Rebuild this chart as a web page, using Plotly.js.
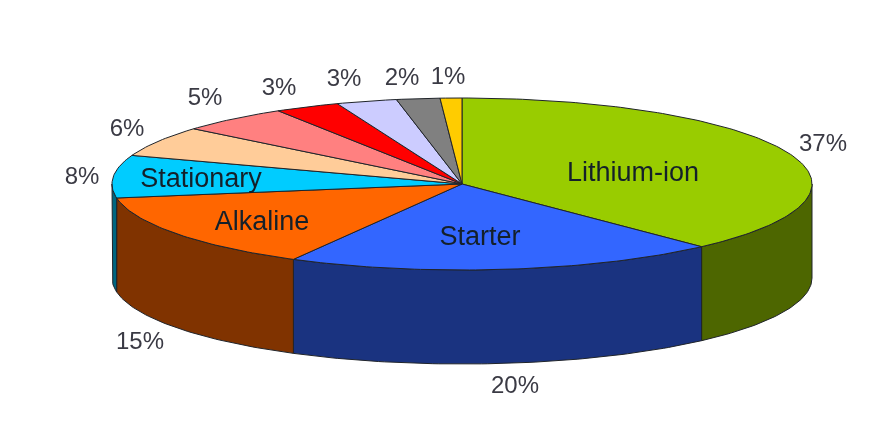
<!DOCTYPE html>
<html>
<head>
<meta charset="utf-8">
<script src="https://cdn.plot.ly/plotly-3.0.1.min.js"></script>
<style>html,body{margin:0;padding:0;background:#fff}#chart{width:880px;height:424px;filter:blur(0.5px)}</style>
</head>
<body>
<div id="chart"></div>
<script>
// Slice shares as read from the drawn boundaries (clockwise from 12 o'clock)
const sliceShares = [38, 20, 14.4, 8, 5.7, 5.1, 3, 2.8, 2, 1];
const percentLabels = ['37%','20%','15%','8%','6%','5%','3%','3%','2%','1%'];
const sliceNames = ['Lithium-ion','Starter','Alkaline','Stationary','','','','','',''];
const topColors = ['#99cc00','#3366ff','#ff6600','#00ccff','#ffcc99','#ff8080','#ff0000','#ccccff','#808080','#ffcc00'];
const wallColors = ['#4d6600','#1a3380','#803300','#006680','#806633','#804040','#800000','#666680','#404040','#806600'];
// Label positions in page pixels
const percentX = [823,515,140,82,127,205,279,344,402,448];
const percentY = [145,387,343,178,130,99,89,80,79,78];
const nameX = [633,480,262,201];
const nameY = [174,238,223,180];

const W = 880, H = 424, cx = 462, cy = 184, rx = 350, ry = 86, depth = 94;
const unitX = px => (px - cx) / rx;
const unitY = py => (cy - py) / rx;
const tilt = ry / rx, drop = depth / rx;
const rad = d => d * Math.PI / 180;
const outline = {color: '#20242a', width: 1};

function arc(a0, a1, dy) {
  const xs = [], ys = [];
  const n = Math.max(1, Math.ceil(Math.abs(a1 - a0)));
  for (let i = 0; i <= n; i++) {
    const a = rad(a0 + (a1 - a0) * i / n);
    xs.push(Math.sin(a));
    ys.push(Math.cos(a) * tilt - dy);
  }
  return [xs, ys];
}
const poly = (x, y, fill) => ({type:'scatter', mode:'lines', x, y, fill:'toself', fillcolor:fill,
  line:outline, hoverinfo:'skip', showlegend:false});

const traces = [];
const tops = [];
let start = 0;
sliceShares.forEach((share, i) => {
  const end = start + share * 3.6;
  const a0 = Math.max(start, 90), a1 = Math.min(end, 270);
  if (a1 > a0) {
    const [tx, ty] = arc(a0, a1, 0);
    const [bx, by] = arc(a1, a0, drop);
    traces.push(poly(tx.concat(bx, tx[0]), ty.concat(by, ty[0]), wallColors[i]));
  }
  const [sx, sy] = arc(start, end, 0);
  tops.push(poly([0].concat(sx, 0), [0].concat(sy, 0), topColors[i]));
  start = end;
});
traces.push(...tops);

traces.push({type:'scatter', mode:'text', x:percentX.map(unitX), y:percentY.map(unitY), text:percentLabels,
  textposition:'middle center', textfont:{family:'Liberation Sans, Arial, sans-serif', size:24, color:'#3a3a44'},
  hoverinfo:'skip', showlegend:false});
traces.push({type:'scatter', mode:'text', x:nameX.map(unitX), y:nameY.map(unitY), text:sliceNames.slice(0,4),
  textposition:'middle center', textfont:{family:'Liberation Sans, Arial, sans-serif', size:27, color:'#14202a'},
  hoverinfo:'skip', showlegend:false});

const hidden = {visible:false, fixedrange:true};
Plotly.newPlot('chart', traces, {
  width:W, height:H, margin:{l:0,r:0,t:0,b:0}, paper_bgcolor:'#fff', plot_bgcolor:'#fff', showlegend:false,
  xaxis:Object.assign({range:[unitX(0), unitX(W)]}, hidden),
  yaxis:Object.assign({range:[unitY(H), unitY(0)]}, hidden)
}, {displayModeBar:false, staticPlot:true});
</script>
</body>
</html>
